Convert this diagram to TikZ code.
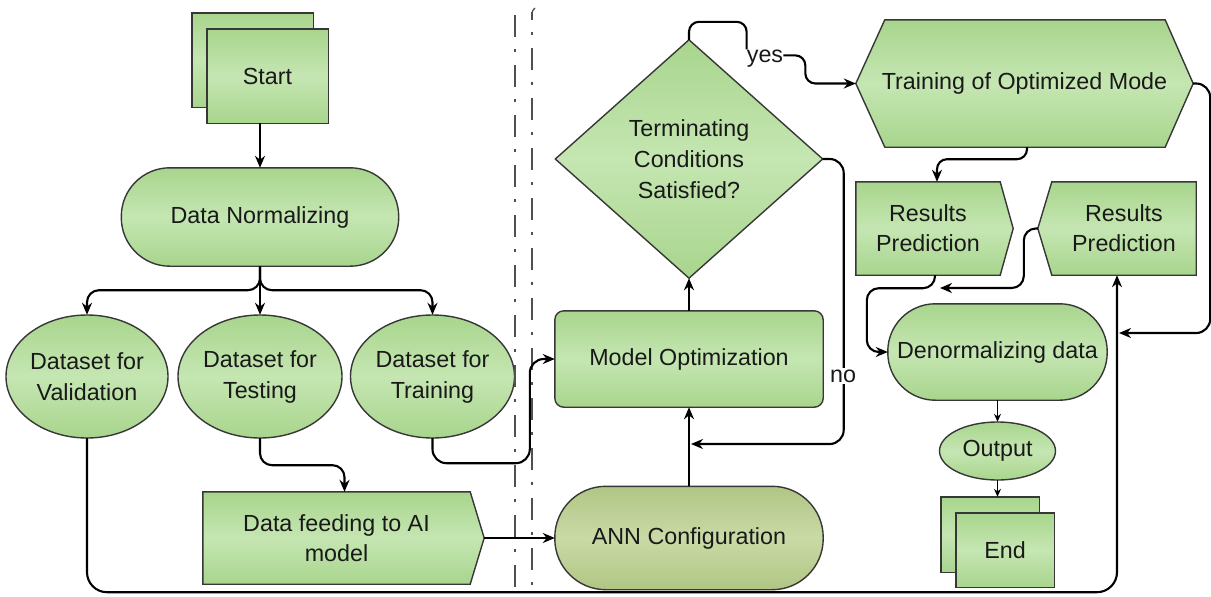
\documentclass[tikz,border=0pt]{standalone}
\usepackage{fontspec}
\setmainfont{Liberation Sans}
\usetikzlibrary{arrows.meta,backgrounds}
\definecolor{g1}{RGB}{168,213,141}
\definecolor{g2}{RGB}{197,230,178}
\definecolor{a1}{RGB}{176,198,132}
\definecolor{a2}{RGB}{202,218,166}
\definecolor{bord}{RGB}{55,55,55}
\definecolor{txt}{RGB}{25,25,25}
\definecolor{divc}{RGB}{80,80,80}
\newcommand\fsz{\fontsize{23.3}{30}\selectfont}
\newcommand\fszb{\fontsize{23.3}{31}\selectfont}
\begin{document}
\begin{tikzpicture}[x=1pt,y=-1pt,
 lbl/.style={inner sep=0pt, align=center, font=\fsz, text=txt},
 gbox/.style={draw=bord, line width=1.4pt, top color=g1, bottom color=g1, middle color=g2},
 abox/.style={draw=bord, line width=1.4pt, top color=a1, bottom color=a1, middle color=a2},
 conn/.style={draw=black, line width=2.1pt},
 arr/.style={conn, -{Stealth[length=12pt,width=10pt]}},
 tarr/.style={draw=black, line width=1.1pt, -{Stealth[length=8pt,width=7pt]}},
 divider/.style={draw=divc, line width=1.6pt, dash pattern=on 22pt off 12pt on 2.5pt off 13.5pt},
]
\useasboundingbox (0,0) rectangle (1211,597);

% nodes (text)
\node[lbl, minimum width=121pt, minimum height=94pt] (startb) at (252.5,60) {};
\node[lbl, minimum width=121pt, minimum height=94pt] (startf) at (267.5,76) {Start};
\node[lbl, minimum width=277pt, minimum height=98pt] (dn) at (260,217) {Data Normalizing};
\node[lbl, font=\fszb, minimum width=162pt, minimum height=123pt] (val) at (87,376.5) {Dataset for\\Validation};
\node[lbl, font=\fszb, minimum width=164pt, minimum height=123pt] (tst) at (260,376.5) {Dataset for\\Testing};
\node[lbl, font=\fszb, minimum width=164pt, minimum height=123pt] (trn) at (432.5,376.5) {Dataset for\\Training};
\node[lbl, minimum width=267pt, minimum height=92pt] (df) at (336.5,538) {Data feeding to AI\\model};
\node[lbl, minimum width=268pt, minimum height=103pt] (ann) at (689,538) {ANN Configuration};
\node[lbl, minimum width=268pt, minimum height=96pt] (mo) at (689,359) {Model Optimization};
\node[lbl, font=\fszb, minimum width=267pt, minimum height=238pt] (dia) at (689,159) {Terminating\\Conditions\\Satisfied?};
\node[lbl, minimum width=337pt, minimum height=127pt] (tom) at (1024.5,83.5) {Training of Optimized Mode};
\node[lbl, minimum width=144pt, minimum height=93pt] (rp1) at (928,228.5) {Results\\Prediction};
\node[lbl, minimum width=144pt, minimum height=93pt] (rp2) at (1124,228.5) {Results\\Prediction};
\node[lbl, minimum width=219pt, minimum height=96pt] (dd) at (997.5,352) {Denormalizing data};
\node[lbl, minimum width=116pt, minimum height=58pt] (out) at (997.5,451) {Output};
\node[lbl, minimum width=98pt, minimum height=75pt] (endb) at (990,534.5) {};
\node[lbl, minimum width=98pt, minimum height=74pt] (endf) at (1005,550) {End};

% shapes
\begin{pgfonlayer}{background}
\fill[white] (0,0) rectangle (1211,597);
\path[gbox] (startb.north west) rectangle (startb.south east);
\path[gbox] (startf.north west) rectangle (startf.south east);
\path[gbox, rounded corners=48.5pt] (dn.north west) rectangle (dn.south east);
\path[gbox] (val.center) ellipse [x radius=81pt, y radius=61.5pt];
\path[gbox] (tst.center) ellipse [x radius=82pt, y radius=61.5pt];
\path[gbox] (trn.center) ellipse [x radius=82pt, y radius=61.5pt];
\path[gbox] (df.north west) -- (df.north east) -- ([xshift=14pt]df.east) -- (df.south east) -- (df.south west) -- cycle;
\path[abox, rounded corners=51pt] (ann.north west) rectangle (ann.south east);
\path[gbox, rounded corners=9pt] (mo.north west) rectangle (mo.south east);
\path[gbox] (dia.north) -- (dia.east) -- (dia.south) -- (dia.west) -- cycle;
\path[gbox] (tom.west) -- ([xshift=29pt]tom.north west) -- ([xshift=-28pt]tom.north east) -- (tom.east) -- ([xshift=-28pt]tom.south east) -- ([xshift=29pt]tom.south west) -- cycle;
\path[gbox] (rp1.north west) -- (rp1.north east) -- ([xshift=13pt]rp1.east) -- (rp1.south east) -- (rp1.south west) -- cycle;
\path[gbox] (rp2.north east) -- (rp2.north west) -- ([xshift=-14pt]rp2.west) -- (rp2.south west) -- (rp2.south east) -- cycle;
\path[gbox, rounded corners=47.5pt] (dd.north west) rectangle (dd.south east);
\path[gbox] (out.center) ellipse [x radius=58pt, y radius=29pt];
\path[gbox] (endb.north west) rectangle (endb.south east);
\path[gbox] (endf.north west) rectangle (endf.south east);
\end{pgfonlayer}

% dividers
\draw[divider] (515,15) -- (515,597);
\draw[divider, dash phase=14pt] (532,12) -- (532,597);
\draw[draw=divc, line width=1.3pt] (532,16) .. controls (532,11) and (533,9) .. (535,8);

% connectors
\draw[arr] (dn.north |- startf.south) -- (dn.north);
\draw[arr, rounded corners=12pt] (dn.south) -- ++(0,24) -| (val.north);
\draw[arr, rounded corners=12pt] (dn.south) -- ++(0,24) -| (trn.north);
\draw[arr] (dn.south) -- (tst.north);
\draw[arr, rounded corners=12pt] (tst.south) -- ++(0,27) -| ([xshift=8pt]df.north);
\draw[arr, rounded corners=14pt] (trn.south) -- ++(0,25) -| ([xshift=-25pt]mo.west) -- (mo.west);
\draw[arr] ([xshift=14pt]df.east) -- (ann.west);
\draw[arr] (ann.north) -- (mo.south);
\draw[arr] (mo.north) -- (dia.south);
\coordinate (nojoin) at (691,444);
\draw[arr, rounded corners=14pt] (dia.east) -- ++(21,0) |- (nojoin);
\node[lbl, fill=white, inner sep=2pt] (no) at (843,376) {no};
\node[lbl, anchor=base] (yes) at (765,62) {yes};
\draw[conn, rounded corners=10pt] (dia.north) -- ++(0,-18) -| (yes.north west);
\draw[arr, rounded corners=10pt] ([yshift=4pt]yes.mid east) -- ++(22,0) |- (tom.west);
\draw[arr, rounded corners=10pt] ([xshift=2.5pt]tom.south) -- ++(0,12) -| ([xshift=9pt]rp1.north);
\draw[arr, rounded corners=12pt] ([xshift=7pt]rp1.south) -- ++(0,13) -| ([xshift=-21pt]dd.west) -- (dd.west);
\coordinate (pjoin) at (940,288);
\draw[arr, rounded corners=12pt] ([xshift=-14pt]rp2.west) -- ++(-14,0) |- (pjoin);
\coordinate (rjoin) at (1119,333);
\draw[arr, rounded corners=14pt] (tom.east) -- ++(17,0) |- (rjoin);
\draw[arr, rounded corners=20pt] (val.south) -- ++(0,154) -| ([xshift=-7pt]rp2.south);
\draw[tarr] (dd.south) -- (out.north);
\draw[tarr] (out.south) -- (out.south |- endb.north);
\end{tikzpicture}
\end{document}
